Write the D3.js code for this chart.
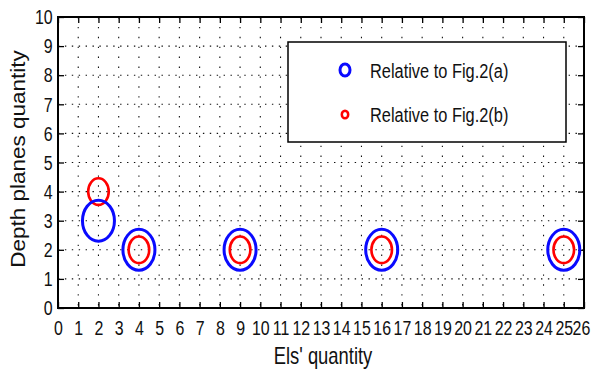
<!DOCTYPE html>
<html>
<head>
<meta charset="utf-8">
<script src="https://cdn.jsdelivr.net/npm/d3@7"></script>
<style>
  body { margin: 0; background: #fff; }
  svg { display: block; font-family: "Liberation Sans", Arial, sans-serif; }
</style>
</head>
<body>
<svg id="chart" width="592" height="369"></svg>
<script>
// data
var xTicks = d3.range(0, 27);
var yTicks = d3.range(0, 11);
var xsA = [2, 4, 9, 16, 25];
var ysA = [3, 2, 2, 2, 2];
var xsB = [2, 4, 9, 16, 25];
var ysB = [4, 2, 2, 2, 2];
var seriesNames = ["Relative to Fig.2(a)", "Relative to Fig.2(b)"];
var xLabel = "Els' quantity";
var yLabel = "Depth planes quantity";

var svg = d3.select('#chart');
var plotL = 58, plotR = 584, plotT = 17, plotB = 308;
var sx = 0.8; // the picture is squeezed sideways
var tickSx = 0.76;

var x = d3.scaleLinear().domain([0, 26]).range([plotL, plotR]);
var y = d3.scaleLinear().domain([0, 10]).range([plotB, plotT]);

// dotted grid
svg.append("g").selectAll("line")
    .data(yTicks.slice(1, -1))
    .join("line")
    .attr("x1", plotL).attr("x2", plotR)
    .attr("y1", d => y(d)).attr("y2", d => y(d))
    .attr("stroke", "#111")
    .attr("stroke-width", 1.1)
    .attr("stroke-dasharray", "1.4,5.5");
svg.append("g").selectAll("line")
    .data(xTicks.slice(1, -1))
    .join("line")
    .attr("x1", d => x(d)).attr("x2", d => x(d))
    .attr("y1", plotT).attr("y2", plotB)
    .attr("stroke", "#111")
    .attr("stroke-width", 1.1)
    .attr("stroke-dasharray", "1.4,8.5");

// axes, ticks point inward
var gx = svg.append("g")
    .attr("transform", "translate(0," + plotB + ")")
    .call(d3.axisBottom(x).tickValues(xTicks).tickFormat(d3.format("d"))
        .tickSizeInner(-6).tickSizeOuter(0).tickPadding(12));
var gy = svg.append("g")
    .attr("transform", "translate(" + plotL + ",0)")
    .call(d3.axisLeft(y).tickValues(yTicks).tickFormat(d3.format("d"))
        .tickSizeInner(-6).tickSizeOuter(0).tickPadding(7));
svg.append("g")
    .attr("transform", "translate(0," + plotT + ")")
    .call(d3.axisTop(x).tickValues(xTicks).tickFormat("")
        .tickSizeInner(-6).tickSizeOuter(0));
svg.append("g")
    .attr("transform", "translate(" + plotR + ",0)")
    .call(d3.axisRight(y).tickValues(yTicks).tickFormat("")
        .tickSizeInner(-6).tickSizeOuter(0));

svg.selectAll(".domain").remove();
svg.selectAll(".tick line").attr("stroke", "#000").attr("stroke-width", 1.3);
gx.selectAll("text")
    .attr("font-size", 21)
    .attr("font-family", "Liberation Sans, Arial, sans-serif")
    .attr("fill", "#111")
    .attr("dx", d => d === 26 ? -4 : 0)
    .attr("transform", "scale(" + tickSx + ",1)");
gy.selectAll("text")
    .attr("font-size", 21)
    .attr("font-family", "Liberation Sans, Arial, sans-serif")
    .attr("fill", "#111")
    .attr("transform", "scale(" + tickSx + ",1)");

svg.append("rect")
    .attr("x", plotL).attr("y", plotT)
    .attr("width", plotR - plotL).attr("height", plotB - plotT)
    .attr("fill", "none")
    .attr("stroke", "#000")
    .attr("stroke-width", 2);

// markers
svg.append("g").selectAll("ellipse")
    .data(xsB)
    .join("ellipse")
    .attr("cx", d => x(d))
    .attr("cy", (d, i) => y(ysB[i]))
    .attr("rx", 10.3).attr("ry", 13.3)
    .attr("fill", "none")
    .attr("stroke", "#f00")
    .attr("stroke-width", 2.6);
svg.append("g").selectAll("ellipse")
    .data(xsA)
    .join("ellipse")
    .attr("cx", d => x(d))
    .attr("cy", (d, i) => y(ysA[i]))
    .attr("rx", 16).attr("ry", 20.5)
    .attr("fill", "none")
    .attr("stroke", "#0a0aff")
    .attr("stroke-width", 3);

// legend
var legend = svg.append("g");
legend.append("rect")
    .attr("x", 288).attr("y", 42)
    .attr("width", 278).attr("height", 100)
    .attr("fill", "#fff")
    .attr("stroke", "#000")
    .attr("stroke-width", 1.5);
legend.append("ellipse")
    .attr("cx", 345).attr("cy", 70)
    .attr("rx", 5).attr("ry", 6)
    .attr("fill", "none").attr("stroke", "#0a0aff").attr("stroke-width", 3);
legend.append("ellipse")
    .attr("cx", 345).attr("cy", 114.5)
    .attr("rx", 3.2).attr("ry", 3.8)
    .attr("fill", "none").attr("stroke", "#f00").attr("stroke-width", 2.5);
legend.selectAll("g.item")
    .data(seriesNames)
    .join("g")
    .attr("class", "item")
    .attr("transform", (d, i) => "translate(370," + (77.5 + i * 44.5) + ")")
    .append("text")
    .attr("transform", "scale(0.78,1)")
    .attr("font-size", 21)
    .attr("fill", "#111")
    .text(d => d);

// axis titles
svg.append("g")
    .attr("transform", "translate(323,364)")
    .append("text")
    .attr("transform", "scale(" + sx + ",1)")
    .attr("text-anchor", "middle")
    .attr("font-size", 23)
    .attr("fill", "#111")
    .text(xLabel);
svg.append("g")
    .attr("transform", "translate(25,159) rotate(-90)")
    .append("text")
    .attr("transform", "scale(1,0.86)")
    .attr("text-anchor", "middle")
    .attr("font-size", 22.5)
    .attr("fill", "#111")
    .text(yLabel);
</script>
</body>
</html>
